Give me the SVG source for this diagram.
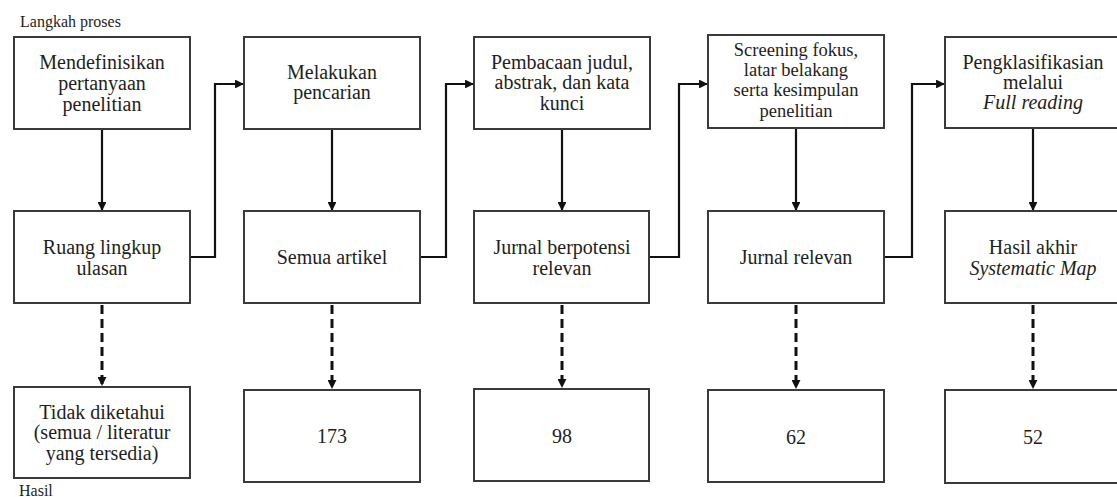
<svg xmlns="http://www.w3.org/2000/svg" width="1117" height="497" viewBox="0 0 1117 497">
<style>
.box{fill:#fff;stroke:#3a3a3a;stroke-width:2}
.t{font-family:"Liberation Serif","Times New Roman",serif;font-size:20px;fill:#1e1e1e;text-anchor:middle}
.s{font-size:18.5px}
.lbl{font-family:"Liberation Serif","Times New Roman",serif;font-size:16px;fill:#1e1e1e}
.i{font-style:italic}
.c{fill:none;stroke:#111;stroke-width:2.2}
.d{fill:none;stroke:#111;stroke-width:3;stroke-dasharray:9 5}
</style>
<defs>
<marker id="ah" viewBox="0 0 10 10" refX="9" refY="5" markerWidth="4" markerHeight="4" orient="auto" markerUnits="strokeWidth">
<path d="M0,0 L10,5 L0,10 z" fill="#111"/>
</marker>
<marker id="ahd" viewBox="0 0 10 10" refX="9" refY="5" markerWidth="3" markerHeight="3" orient="auto" markerUnits="strokeWidth">
<path d="M0,0 L10,5 L0,10 z" fill="#111"/>
</marker>
</defs>
<rect width="1117" height="497" fill="#fff"/>
<text class="lbl" x="20" y="27">Langkah proses</text>
<text class="lbl" x="19" y="496">Hasil</text>

<g id="connectors">
<path class="c" d="M102 129 V210" marker-end="url(#ah)"/>
<path class="c" d="M332 129 V210" marker-end="url(#ah)"/>
<path class="c" d="M562 129 V210" marker-end="url(#ah)"/>
<path class="c" d="M796 128 V210" marker-end="url(#ah)"/>
<path class="c" d="M1033 128 V210" marker-end="url(#ah)"/>
<path class="c" d="M190 257 H215 V84 H243" marker-end="url(#ah)"/>
<path class="c" d="M420 257 H446 V84 H473" marker-end="url(#ah)"/>
<path class="c" d="M650 257 H679 V84 H707" marker-end="url(#ah)"/>
<path class="c" d="M884 257 H912 V84 H944" marker-end="url(#ah)"/>
<path class="d" d="M102 305 V385" marker-end="url(#ahd)"/>
<path class="d" d="M332 305 V388" marker-end="url(#ahd)"/>
<path class="d" d="M562 305 V387" marker-end="url(#ahd)"/>
<path class="d" d="M796 305 V388" marker-end="url(#ahd)"/>
<path class="d" d="M1033 305 V388" marker-end="url(#ahd)"/>
</g>

<g id="n1"><rect class="box" x="14" y="37" width="176" height="92"/>
<text class="t" x="102" y="69">Mendefinisikan</text><text class="t" x="102" y="90">pertanyaan</text><text class="t" x="102" y="111">penelitian</text></g>
<g id="n2"><rect class="box" x="244" y="37" width="176" height="92"/>
<text class="t" x="332" y="79">Melakukan</text><text class="t" x="332" y="99">pencarian</text></g>
<g id="n3"><rect class="box" x="474" y="37" width="176" height="92"/>
<text class="t" x="562" y="69">Pembacaan judul,</text><text class="t" x="562" y="89">abstrak, dan kata</text><text class="t" x="562" y="110">kunci</text></g>
<g id="n4"><rect class="box" x="708" y="35" width="176" height="93"/>
<text class="t s" x="796" y="56">Screening fokus,</text><text class="t s" x="796" y="76">latar belakang</text><text class="t s" x="796" y="96">serta kesimpulan</text><text class="t s" x="796" y="117">penelitian</text></g>
<g id="n5"><rect class="box" x="945" y="37" width="176" height="91"/>
<text class="t" x="1033" y="69">Pengklasifikasian</text><text class="t" x="1033" y="89">melalui</text><text class="t i" x="1033" y="109">Full reading</text></g>

<g id="m1"><rect class="box" x="14" y="211" width="176" height="92"/>
<text class="t" x="102" y="254">Ruang lingkup</text><text class="t" x="102" y="275">ulasan</text></g>
<g id="m2"><rect class="box" x="244" y="211" width="176" height="92"/>
<text class="t" x="332" y="264">Semua artikel</text></g>
<g id="m3"><rect class="box" x="474" y="211" width="175" height="92"/>
<text class="t" x="562" y="254">Jurnal berpotensi</text><text class="t" x="562" y="275">relevan</text></g>
<g id="m4"><rect class="box" x="708" y="211" width="176" height="92"/>
<text class="t" x="796" y="264">Jurnal relevan</text></g>
<g id="m5"><rect class="box" x="945" y="211" width="176" height="92"/>
<text class="t" x="1033" y="254">Hasil akhir</text><text class="t i" x="1033" y="275">Systematic Map</text></g>

<g id="b1"><rect class="box" x="14" y="387" width="176" height="91"/>
<text class="t" x="102" y="419">Tidak diketahui</text><text class="t" x="102" y="439">(semua / literatur</text><text class="t" x="102" y="460">yang tersedia)</text></g>
<g id="b2"><rect class="box" x="244" y="390" width="176" height="92"/>
<text class="t" x="332" y="443">173</text></g>
<g id="b3"><rect class="box" x="474" y="389" width="175" height="92"/>
<text class="t" x="562" y="443">98</text></g>
<g id="b4"><rect class="box" x="708" y="390" width="176" height="92"/>
<text class="t" x="796" y="444">62</text></g>
<g id="b5"><rect class="box" x="945" y="390" width="176" height="93"/>
<text class="t" x="1033" y="444">52</text></g>
</svg>
